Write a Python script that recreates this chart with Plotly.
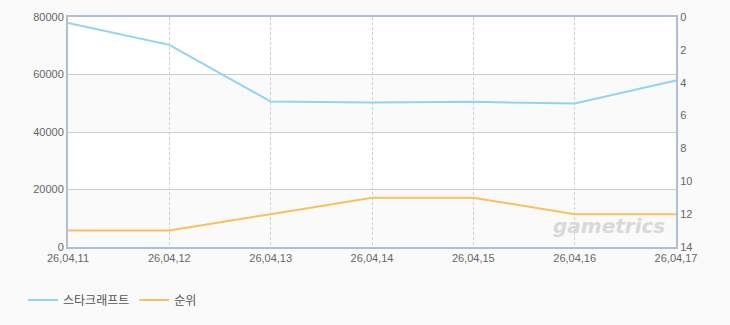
import plotly.graph_objects as go

dates = ["26,04,11", "26,04,12", "26,04,13", "26,04,14", "26,04,15", "26,04,16", "26,04,17"]
players = [77900, 70300, 50600, 50300, 50500, 49900, 57900]
ranks = [13, 13, 12, 11, 11, 12, 12]
series_names = ["스타크래프트", "순위"]

blue = "#91d3f3"
orange = "#fdbe5e"
axis_col = "#aebfd4"
font_fam = "Liberation Sans, Noto Sans CJK KR, sans-serif"

fig = go.Figure()
fig.add_trace(go.Scatter(x=dates, y=players, mode="lines", name=series_names[0],
                         line=dict(color=blue, width=2), yaxis="y"))
fig.add_trace(go.Scatter(x=dates, y=ranks, mode="lines", name=series_names[1],
                         line=dict(color=orange, width=2), yaxis="y2"))

# alternating background bands
for lo, hi in [(0, 20000), (40000, 60000)]:
    fig.add_shape(type="rect", xref="paper", yref="y", x0=0, x1=1, y0=lo, y1=hi,
                  fillcolor="#fafafa", line_width=0, layer="below")

fig.add_annotation(text="<b><i>gametrics</i></b>", xref="paper", yref="paper",
                   x=0.985, y=0.03, xanchor="right", yanchor="bottom", showarrow=False,
                   font=dict(family="DejaVu Sans, sans-serif", size=20, color="#d9d9d9"))

fig.update_layout(
    width=730, height=325,
    margin=dict(l=68, r=54, t=17, b=77),
    paper_bgcolor="#fafafa", plot_bgcolor="#ffffff",
    font=dict(family=font_fam, size=11, color="#666666"),
    showlegend=True,
    legend=dict(orientation="h", x=-0.074, y=-0.225, xanchor="left", yanchor="middle",
                bgcolor="rgba(0,0,0,0)", font=dict(size=12, color="#555555"),
                itemwidth=30, tracegroupgap=0),
    xaxis=dict(type="category", range=[0, 6], showline=True, linecolor=axis_col, linewidth=2,
               mirror=True, showgrid=True, gridcolor="#cfcfcf", griddash="3px,2px", gridwidth=1,
               ticks="", tickfont=dict(size=11, color="#666666"), zeroline=False),
    yaxis=dict(range=[0, 80000], dtick=20000, showline=True, linecolor=axis_col, linewidth=2,
               showgrid=True, gridcolor="#cccccc", gridwidth=1, ticks="", zeroline=False,
               tickfont=dict(size=11, color="#666666"), tickformat="d"),
    yaxis2=dict(range=[14, 0], dtick=2, overlaying="y", side="right", showline=True,
                linecolor=axis_col, linewidth=2, showgrid=False, ticks="", zeroline=False,
                tickfont=dict(size=11, color="#666666")),
)

fig.write_html("out.html")
